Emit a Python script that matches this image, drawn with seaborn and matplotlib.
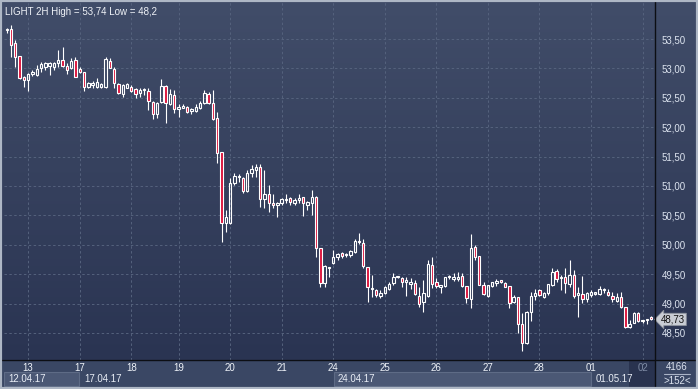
import numpy as np
import pandas as pd
import matplotlib
matplotlib.use("Agg")
import matplotlib.pyplot as plt
from matplotlib.colors import LinearSegmentedColormap
from matplotlib.patches import Rectangle
from matplotlib.lines import Line2D
from matplotlib.ticker import FuncFormatter
import seaborn as sns

############## Data: LIGHT, 2H bars 12.04.17 - 02.05.17 ##############
bar_open = [53.65, 53.67, 53.43, 53.21, 52.85, 52.80, 52.90, 52.89, 53.01, 53.02,
            53.04, 53.02, 53.09, 53.14, 53.04, 53.01, 53.14, 52.99, 52.94, 52.68,
            52.72, 52.68, 52.68, 52.68, 53.13, 52.99, 52.73, 52.56, 52.67, 52.68,
            52.65, 52.58, 52.63, 52.62, 52.43, 52.22, 52.43, 52.70, 52.39, 52.55,
            52.31, 52.33, 52.34, 52.28, 52.28, 52.33, 52.41, 52.56, 52.41, 52.16,
            51.58, 50.37, 50.37, 51.05, 51.15, 51.14, 50.92, 51.22, 51.27, 51.32,
            50.78, 50.86, 50.71, 50.68, 50.71, 50.76, 50.80, 50.71, 50.76, 50.81,
            50.68, 50.71, 50.81, 49.95, 49.35, 49.61, 49.69, 49.79, 49.86, 49.83,
            49.83, 49.88, 50.04, 50.03, 49.62, 49.25, 49.23, 49.13, 49.18, 49.25,
            49.35, 49.45, 49.44, 49.37, 49.33, 49.35, 49.13, 49.03, 49.13, 49.66,
            49.37, 49.28, 49.30, 49.45, 49.42, 49.42, 49.47, 49.30, 49.08, 49.96,
            49.81, 49.32, 49.13, 49.30, 49.35, 49.40, 49.35, 49.30, 49.03, 49.11,
            48.65, 48.33, 48.86, 49.13, 49.23, 49.11, 49.18, 49.32, 49.55, 49.44,
            49.45, 49.33, 49.49, 49.15, 49.16, 49.08, 49.15, 49.17, 49.16, 49.23,
            49.20, 49.13, 49.04, 49.11, 48.94, 48.60, 48.67, 48.84, 48.70, 48.72,
            48.77]
bar_high = [53.68, 53.74, 53.48, 53.21, 52.87, 52.92, 52.97, 53.06, 53.11, 53.11,
            53.11, 53.11, 53.31, 53.36, 53.09, 53.18, 53.19, 53.02, 52.94, 52.77,
            52.78, 52.84, 52.75, 53.19, 53.18, 53.02, 52.75, 52.73, 52.75, 52.72,
            52.66, 52.67, 52.66, 52.67, 52.45, 52.43, 52.82, 52.72, 52.65, 52.63,
            52.39, 52.39, 52.36, 52.33, 52.39, 52.45, 52.63, 52.60, 52.63, 52.26,
            51.58, 50.59, 51.14, 51.22, 51.20, 51.15, 51.27, 51.36, 51.37, 51.37,
            51.27, 51.02, 50.86, 50.73, 50.80, 50.86, 50.81, 50.80, 50.86, 50.82,
            50.75, 50.93, 50.83, 49.95, 49.65, 49.62, 49.91, 49.86, 49.87, 49.86,
            49.91, 50.10, 50.20, 50.10, 49.63, 49.49, 49.25, 49.23, 49.30, 49.37,
            49.52, 49.47, 49.45, 49.45, 49.44, 49.40, 49.28, 49.40, 49.74, 49.79,
            49.44, 49.32, 49.46, 49.49, 49.52, 49.54, 49.52, 49.30, 50.18, 50.00,
            49.81, 49.37, 49.32, 49.37, 49.42, 49.40, 49.37, 49.30, 49.15, 49.12,
            48.84, 48.88, 49.20, 49.25, 49.25, 49.20, 49.33, 49.61, 49.59, 49.49,
            49.61, 49.74, 49.57, 49.28, 49.47, 49.20, 49.23, 49.20, 49.30, 49.26,
            49.25, 49.20, 49.18, 49.20, 48.94, 48.72, 48.86, 48.86, 48.71, 48.74,
            48.78]
bar_low = [53.60, 53.19, 53.02, 52.82, 52.68, 52.62, 52.87, 52.87, 52.94, 52.97,
           52.89, 52.97, 53.02, 53.02, 52.90, 52.99, 52.85, 52.92, 52.62, 52.66,
           52.66, 52.66, 52.66, 52.66, 53.00, 52.66, 52.56, 52.51, 52.66, 52.60,
           52.50, 52.51, 52.55, 52.29, 52.14, 52.16, 52.41, 52.07, 52.38, 52.24,
           52.17, 52.32, 52.24, 52.22, 52.26, 52.31, 52.39, 52.40, 52.12, 51.39,
           50.05, 50.22, 50.36, 51.02, 51.07, 50.88, 50.90, 51.15, 51.15, 50.64,
           50.63, 50.56, 50.63, 50.47, 50.68, 50.71, 50.68, 50.68, 50.71, 50.49,
           50.59, 50.51, 49.79, 49.28, 49.28, 49.45, 49.68, 49.74, 49.77, 49.79,
           49.79, 49.86, 50.01, 49.61, 49.03, 49.11, 49.11, 49.10, 49.17, 49.23,
           49.32, 49.43, 49.28, 49.13, 49.25, 49.15, 48.94, 48.86, 49.12, 49.27,
           49.27, 49.18, 49.28, 49.42, 49.38, 49.38, 49.28, 49.01, 48.93, 49.74,
           49.32, 49.15, 49.11, 49.28, 49.30, 49.35, 49.28, 48.93, 49.01, 48.50,
           48.20, 48.31, 48.70, 49.06, 49.13, 49.10, 49.15, 49.30, 49.37, 49.23,
           49.18, 49.28, 49.10, 48.77, 49.01, 49.03, 49.11, 49.15, 49.15, 49.18,
           49.13, 49.03, 49.03, 48.93, 48.58, 48.58, 48.67, 48.69, 48.67, 48.65,
           48.72]
bar_close = [53.67, 53.40, 53.19, 52.84, 52.80, 52.90, 52.94, 52.99, 53.08, 53.09,
             53.09, 53.09, 53.14, 53.04, 52.97, 53.13, 52.85, 52.94, 52.68, 52.75,
             52.75, 52.77, 52.73, 53.16, 53.01, 52.75, 52.58, 52.72, 52.73, 52.62,
             52.56, 52.63, 52.65, 52.45, 52.22, 52.41, 52.70, 52.41, 52.56, 52.31,
             52.34, 52.36, 52.26, 52.31, 52.34, 52.41, 52.58, 52.41, 52.14, 51.56,
             50.37, 50.47, 51.05, 51.17, 51.16, 50.92, 51.22, 51.29, 51.32, 50.78,
             50.86, 50.71, 50.68, 50.71, 50.78, 50.78, 50.73, 50.76, 50.80, 50.71,
             50.73, 50.81, 49.95, 49.35, 49.64, 49.62, 49.79, 49.84, 49.81, 49.84,
             49.89, 50.06, 50.05, 49.64, 49.28, 49.27, 49.15, 49.18, 49.28, 49.33,
             49.45, 49.46, 49.37, 49.40, 49.37, 49.16, 48.99, 49.18, 49.67, 49.33,
             49.30, 49.32, 49.45, 49.47, 49.45, 49.45, 49.30, 49.10, 49.95, 49.79,
             49.32, 49.16, 49.32, 49.37, 49.38, 49.37, 49.28, 49.01, 49.11, 48.65,
             48.33, 48.86, 49.13, 49.18, 49.15, 49.18, 49.33, 49.54, 49.42, 49.45,
             49.35, 49.49, 49.13, 49.18, 49.08, 49.18, 49.20, 49.18, 49.25, 49.24,
             49.15, 49.08, 49.11, 48.94, 48.60, 48.65, 48.84, 48.70, 48.71, 48.74,
             48.73]

day_pos = [5, 17, 29, 40, 52, 64, 76, 88, 100, 112, 124, 136, 148]
day_labels = ["13", "17", "18", "19", "20", "21", "24", "25", "26", "27", "28", "01", "02"]
week_pos = [17, 76, 136]
week_labels = ["12.04.17", "17.04.17", "24.04.17", "01.05.17"]
price_ticks = [48.5, 49.0, 49.5, 50.0, 50.5, 51.0, 51.5, 52.0, 52.5, 53.0, 53.5]
volume_text = "4166"
bars_text = ">152<"

############## Style ##############
sns.set_style("dark")
plt.rcParams['font.family'] = ['Liberation Sans', 'DejaVu Sans']
FS = 7

W, H = 698, 389
fig = plt.figure(figsize=(W / 100, H / 100), dpi=100)

def fx(px):
    return px / W

def fy(py):
    return 1 - py / H

# background gradient + bottom panel
bg = fig.add_axes([0, 0, 1, 1], zorder=0)
cmap = LinearSegmentedColormap.from_list('bg', ['#414d69', '#2a3452'])
grad = np.linspace(0, 1, 256).reshape(-1, 1)
bg.imshow(grad, aspect='auto', cmap=cmap, extent=[0, 1, fy(360), 1], origin='upper')
bg.add_patch(Rectangle((0, 0), 1, fy(360), color='#3a4764'))
bg.set_xlim(0, 1)
bg.set_ylim(0, 1)
bg.axis('off')

############## Candles ##############
df = pd.DataFrame({'o': bar_open, 'h': bar_high, 'l': bar_low, 'c': bar_close})
df['x'] = np.arange(len(df))
df['top'] = df[['o', 'c']].max(axis=1)
df['bot'] = df[['o', 'c']].min(axis=1)
df['size'] = (df['top'] - df['bot']).clip(lower=0.02)
df['face'] = np.where(df['c'] >= df['o'], 'none', '#dc143c')

x_lo, x_hi = -0.63, 150.9
ax = fig.add_axes([fx(4), fy(360), fx(655) - fx(4), fy(2) - fy(360)], zorder=2)
ax.set_facecolor('none')
ax.set_axisbelow(True)
ax.vlines(df['x'], df['top'], df['h'], color='white', lw=0.8, zorder=3)
ax.vlines(df['x'], df['l'], df['bot'], color='white', lw=0.8, zorder=3)
ax.bar(df['x'], df['size'], bottom=df['bot'], width=0.55, color=df['face'],
       edgecolor='white', linewidth=0.8, zorder=4)
ax.set_xlim(x_lo, x_hi)
ax.set_ylim(48.04, 54.13)

ax.set_xticks(day_pos)
ax.set_yticks(price_ticks)
ax.xaxis.grid(True, color='#55627d', linestyle=(0, (2.5, 2.5)), linewidth=0.7)
ax.yaxis.grid(True, color='#55627d', linestyle=(0, (2.5, 2.5)), linewidth=0.7)
ax.tick_params(axis='x', length=0, labelbottom=False)
ax.yaxis.tick_right()
ax.tick_params(axis='y', length=0, pad=5, labelsize=FS, labelcolor='#dce3ef')
ax.yaxis.set_major_formatter(FuncFormatter(lambda v, _: f"{v:.2f}".replace('.', ',')))
for s in ax.spines.values():
    s.set_visible(False)

# last price tag
last = df['c'].iloc[-1]
ax.text(1 + 6 / 651, last, f"{last:.2f}".replace('.', ','), transform=ax.get_yaxis_transform(),
        va='center', ha='left', fontsize=FS, color='#111111', clip_on=False, zorder=6,
        bbox=dict(boxstyle='larrow,pad=0.12', fc='#c9cdd4', ec='#8d939d', lw=0.6))

############## Bottom date panel ##############
axb = fig.add_axes([fx(4), fy(387), fx(655) - fx(4), fy(360) - fy(387)], zorder=1)
axb.set_facecolor('none')
axb.set_ylim(0, 1)
axb.set_xlim(x_lo, x_hi)
starts = [x_lo] + week_pos
ends = week_pos + [x_hi]
for k, (s, e, lab) in enumerate(zip(starts, ends, week_labels)):
    if k % 2 == 0:
        axb.add_patch(Rectangle((s + 0.1, 0.04), e - s - 0.2, 0.52, fc='#4b5875', ec='#5e6b86', lw=0.8))
    axb.text(s + 1.0, 0.30, lab, fontsize=FS, color='#e8edf5', va='center', ha='left')
axb.add_patch(Rectangle((day_pos[-1] - 3.1, 0.0), x_hi - day_pos[-1] + 3.1, 0.96, fc='#29334f', lw=0))
for p, lab in zip(day_pos, day_labels):
    col = '#7d8aa3' if p == day_pos[-1] else '#eef2f8'
    axb.text(p, 0.70, lab, fontsize=FS, color=col, va='center', ha='center')
axb.set_xticks([])
axb.set_yticks([])
for s in axb.spines.values():
    s.set_visible(False)

############## Frame, title, counters ##############
fig.add_artist(Line2D([fx(655), fx(655)], [0, 1], color='#0c0e13', lw=1.0, zorder=10))
fig.add_artist(Line2D([0, 1], [fy(360), fy(360)], color='#0c0e13', lw=1.0, zorder=10))
fig.add_artist(Line2D([fx(664), fx(690)], [fy(374), fy(374)], color='#aab4c6', lw=0.8, zorder=10))
fig.text(fx(677), fy(367), volume_text, fontsize=FS, color='#dce3ef', ha='center', va='center')
fig.text(fx(677), fy(381), bars_text, fontsize=FS, color='#dce3ef', ha='center', va='center')

fmt = lambda v: f"{v:.2f}".rstrip('0').replace('.', ',')
title = f"LIGHT 2H High = {fmt(max(bar_high))} Low = {fmt(min(bar_low))}"
fig.text(fx(5), fy(12), title, fontsize=7, color='#f0f3f8', ha='left', va='center')

fig.add_artist(Rectangle((0, 0), 1, 1, transform=fig.transFigure, fill=False,
                         ec='#aeb7c5', lw=3, zorder=11))

fig.savefig("out.png", dpi=100)
